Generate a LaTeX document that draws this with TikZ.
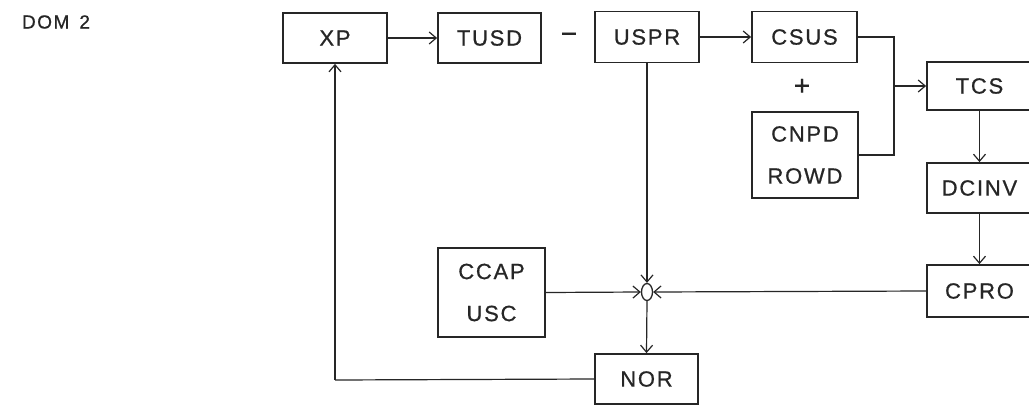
\documentclass[tikz,border=0pt]{standalone}
\usepackage{fontspec}
\setmainfont{Liberation Sans}[LetterSpace=8,FakeBold=0.7]
\usetikzlibrary{arrows.meta,shapes.geometric}
\begin{document}
\begin{tikzpicture}[x=1pt,y=-1pt,
  blk/.style={draw=black!85, line width=1.8pt, rectangle, inner sep=0pt,
    font=\fontsize{22}{42}\selectfont, align=center, text=black!85},
  conn/.style={draw=black!85, line width=1.2pt},
  arr/.style={conn, -{Straight Barb[length=7pt,width=12pt,line width=1.2pt]}},
  sign/.style={font=\fontsize{28}{30}\selectfont, text=black!85, inner sep=0pt}]
\clip (0,0) rectangle (1029,405);
\fill[white] (0,0) rectangle (1029,405);
\node[font=\fontsize{19}{20}\selectfont, text=black!85] (title) at (56,22) {DOM\hspace{10pt}2};
\node[blk, minimum width=104pt, minimum height=50pt] (xp) at (335,38) {XP};
\node[blk, minimum width=103pt, minimum height=50pt] (tusd) at (489.5,38) {TUSD};
\node[blk, minimum width=104pt, minimum height=51pt] (uspr) at (647,37) {USPR};
\node[blk, minimum width=105pt, minimum height=51pt] (csus) at (804.5,37) {CSUS};
\node[blk, minimum width=105pt, minimum height=48pt] (tcs) at (979.5,86) {TCS};
\node[blk, minimum width=106pt, minimum height=86pt] (cnpd) at (805,155) {CNPD\\ROWD};
\node[blk, minimum width=105pt, minimum height=50pt] (dcinv) at (979.5,188) {DCINV};
\node[blk, minimum width=105pt, minimum height=52pt] (cpro) at (979.5,291) {CPRO};
\node[blk, minimum width=107pt, minimum height=89pt] (ccap) at (491.5,292.5) {CCAP\\USC};
\node[draw=black!85, line width=1.3pt, ellipse, minimum width=11pt, minimum height=17pt, inner sep=0pt] (sum) at (647,292) {};
\node[blk, minimum width=103pt, minimum height=50pt] (nor) at (646.5,379) {NOR};
\node[sign] (minus) at (569,38) {−};
\node[sign] (plus) at (802,87) {+};
\coordinate (m) at (894,86);
\coordinate (fb) at (335,380);
\draw[arr] (xp.east) -- (tusd.west);
\draw[arr] (uspr.east) -- (csus.west);
\draw[conn] (csus.east) -| (m);
\draw[conn] (cnpd.east) -| (m);
\draw[arr] (m) -- (tcs.west);
\draw[arr] (tcs.south) -- (dcinv.north);
\draw[arr] (dcinv.south) -- (cpro.north);
\draw[arr] (uspr.south) -- (sum.north);
\draw[arr] (ccap.east) -- (sum.west);
\draw[arr] (cpro.west) -- (sum.east);
\draw[arr] (sum.south) -- (nor.north);
\draw[conn] (nor.west) -- (fb);
\draw[arr] (fb) -- (xp.south);
\end{tikzpicture}
\end{document}
